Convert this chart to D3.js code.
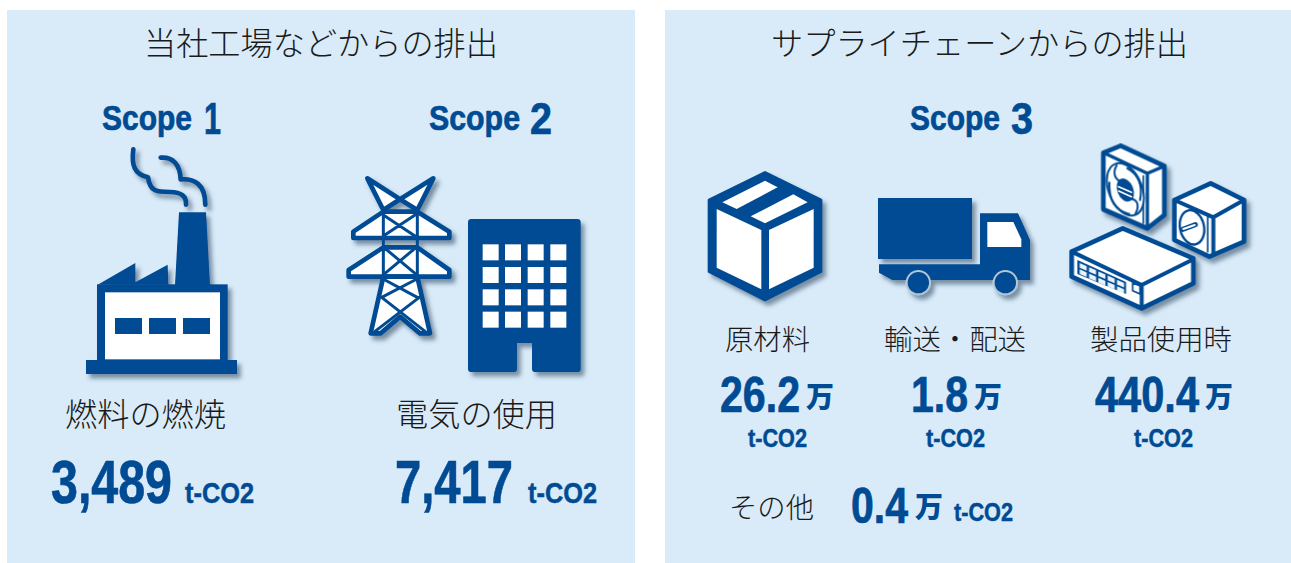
<!DOCTYPE html>
<html lang="ja">
<head>
<meta charset="utf-8">
<title>Scope 1, 2, 3</title>
<script src="https://cdn.jsdelivr.net/npm/d3@7"></script>
<style>
html, body { margin: 0; padding: 0; background: #fff; overflow: hidden; }
.jp { font-family: "Noto Sans CJK JP", "Noto Sans", sans-serif; font-weight: 300; fill: #1a1a1a; }
.num { font-family: "Liberation Sans Narrow", "Liberation Sans", sans-serif; font-weight: 700; fill: #004b93; stroke: #004b93; stroke-width: 0.7; }
.wan { font-family: "Noto Sans CJK JP", sans-serif; font-weight: 900; fill: #004b93; }
</style>
</head>
<body>
<div id="chart"></div>
<script>
// data
const panelTitles = ["当社工場などからの排出", "サプライチェーンからの排出"];
const scopeNames = ["Scope 1", "Scope 2", "Scope 3"];
const ownLabels = ["燃料の燃焼", "電気の使用"];
const ownValues = [3489, 7417];
const chainLabels = ["原材料", "輸送・配送", "製品使用時"];
const chainValues = [26.2, 1.8, 440.4];
const otherLabel = "その他";
const otherValue = 0.4;
const unitMan = "万";
const unitCo = "t-CO2";

const blue = "#004b93";
const panelFill = "#d9ebf8";

const svg = d3.select("#chart").append("svg")
    .attr("width", 1291)
    .attr("height", 563);

// the icon groups are scaled by a third, so the shadow is given in zoomed units
svg.append("filter").attr("id", "shade")
    .attr("x", "-20%").attr("y", "-20%").attr("width", "150%").attr("height", "150%")
    .append("feDropShadow")
    .attr("dx", 11).attr("dy", 13).attr("stdDeviation", 6)
    .attr("flood-color", "#14324f").attr("flood-opacity", 0.5);

//panels
svg.selectAll("rect.panel")
    .data([[7, 628], [665, 626]])
    .join("rect")
    .attr("class", "panel")
    .attr("x", d => d[0])
    .attr("y", 10)
    .attr("width", d => d[1])
    .attr("height", 553)
    .attr("fill", panelFill);

//text helper, every string is squeezed to the width measured in the picture
function put(cls, str, x, y, size, len) {
    return svg.append("text")
        .attr("class", cls)
        .attr("x", x)
        .attr("y", y)
        .attr("font-size", size)
        .attr("textLength", len)
        .attr("lengthAdjust", "spacingAndGlyphs")
        .text(str);
}

function co2(x, y, len, size) {
    return put("num", unitCo, x, y, size, len).style("stroke-width", 0.5);
}

function scopeTitle(name, x, wordLen, digitX, digitLen) {
    let parts = name.split(" ");
    put("num", parts[0], x, 130, 35, wordLen);
    put("num", parts[1], digitX, 134, 44, digitLen);
}

// titles
put("jp", panelTitles[0], 144, 55, 32, 354);
put("jp", panelTitles[1], 771, 55, 32, 417);

scopeTitle(scopeNames[0], 102, 90, 204, 17);
scopeTitle(scopeNames[1], 429, 91, 530, 22);
scopeTitle(scopeNames[2], 910, 90, 1011, 22);

// own emissions
const fmtInt = d3.format(",");
const ownX = d3.scaleOrdinal().domain(ownLabels).range([65, 396]);
const ownNumX = d3.scaleOrdinal().domain(ownLabels).range([51, 395]);
const ownNumLen = d3.scaleOrdinal().domain(ownLabels).range([121, 118]);
const ownUnitX = d3.scaleOrdinal().domain(ownLabels).range([185, 528]);

ownLabels.forEach((lab, i) => {
    put("jp", lab, ownX(lab), 426, 32, 161);
    put("num", fmtInt(ownValues[i]), ownNumX(lab), 503, 62, ownNumLen(lab));
    co2(ownUnitX(lab), 503, 69, 30);
});

// supply chain
const fmtDec = d3.format(".1f");
const chainX = d3.scaleOrdinal().domain(chainLabels).range([725, 884, 1090]);
const chainLabLen = d3.scaleOrdinal().domain(chainLabels).range([85, 142, 142]);
const chainNumX = d3.scaleOrdinal().domain(chainLabels).range([720, 911, 1095]);
const chainNumLen = d3.scaleOrdinal().domain(chainLabels).range([80, 57, 104]);
const chainUnitX = d3.scaleOrdinal().domain(chainLabels).range([748, 926, 1134]);

chainLabels.forEach((lab, i) => {
    put("jp", lab, chainX(lab), 350, 28, chainLabLen(lab));
    let n = chainNumX(lab), w = chainNumLen(lab);
    put("num", fmtDec(chainValues[i]), n, 412, 50, w);
    put("wan", unitMan, n + w + 6, 408, 29, 28);
    co2(chainUnitX(lab), 447, 59, 26);
});

put("jp", otherLabel, 729, 518, 28, 85);
put("num", fmtDec(otherValue), 851, 523, 50, 57);
put("wan", unitMan, 915, 518, 29, 28);
co2(954, 521, 59, 26);

// icons are traced in zoomed coordinates, 3 units to a pixel
function icon(x, y) {
    return svg.append("g")
        .attr("transform", `translate(${x}, ${y}) scale(${1 / 3})`)
        .attr("filter", "url(#shade)");
}
function shape(g, d, fill, stroke, sw) {
    return g.append("path")
        .attr("d", d)
        .attr("fill", fill || "none")
        .attr("stroke", stroke || "none")
        .attr("stroke-width", sw || 0)
        .attr("stroke-linejoin", "round")
        .attr("stroke-linecap", "round");
}
function box(g, x, y, w, h, fill) {
    return g.append("rect").attr("x", x).attr("y", y).attr("width", w).attr("height", h).attr("fill", fill);
}

// factory
let factory = icon(60, 90);
box(factory, 78, 810, 453, 42, blue);
box(factory, 111, 583, 392, 230, blue);
box(factory, 135, 607, 345, 201, "#fff");
[165, 267, 369].forEach(x => box(factory, x, 684, 81, 48, blue));
shape(factory, "M357,367L438,367L450,585L345,585Z", blue);
shape(factory, "M113,584L226,519L226,577L323,524L325,584Z", blue);
shape(factory, "M220,178C214,225 222,252 264,262C270,305 290,306 330,306C365,306 380,320 378,344", null, blue, 14);
shape(factory, "M302,203C340,200 360,225 362,268C400,265 436,280 436,344", null, blue, 14);

// pylon
let pylon = icon(340, 160);
let tw = 14;
shape(pylon, "M82,55L180,118L130,150ZM280,55L180,118L232,150Z", "#fff", blue, tw);
shape(pylon, "M130,155L232,155L328,215L328,234L40,234L40,215Z", "#fff", blue, tw);
shape(pylon, "M130,262L232,262L328,330L328,350L26,350L26,330Z", "#fff", blue, tw);
shape(pylon, "M130,350L232,350L270,520L240,520L180,470L122,520L92,520Z", "#fff", blue, tw);
shape(pylon, "M130,150L130,350M232,150L232,350M130,165L225,228M225,165L130,228M135,265L225,340M225,265L135,340M135,360L232,412M225,360L125,412M125,412L260,518M238,412L100,518", null, blue, 9);

// building
let building = icon(340, 160);
shape(building, "M394,177L712,177Q722,177 722,187L722,626Q722,636 712,636L586,636Q576,636 576,626L576,549L531,549L531,626Q531,636 521,636L394,636Q384,636 384,626L384,187Q384,177 394,177Z", blue);
[253, 321, 388, 455].forEach(y => {
    [428, 495, 563, 631].forEach(x => box(building, x, y, 48, 48, "#fff"));
});

// cardboard box
let carton = icon(690, 140);
shape(carton, "M225,97L393,180L393,395L225,480L57,395L57,180Z", blue, blue, 8);
shape(carton, "M80,207L214,270L214,448L80,383Z", "#fff");
shape(carton, "M237,270L371,207L371,383L237,448Z", "#fff");
shape(carton, "M97,187L225,122L263,142L140,207Z", "#fff");
shape(carton, "M182,229L310,163L353,187L225,250Z", "#fff");

// truck
let truck = icon(690, 140);
box(truck, 564, 174, 282, 183, blue);
shape(truck, "M567,373L870,373L870,220L984,220L1020,300L1020,420L607,420L567,398Z", blue);
shape(truck, "M892,246L970,246L994,298L994,321L892,321Z", "#fff");
[685, 946].forEach(cx => {
    truck.append("circle").attr("cx", cx).attr("cy", 428).attr("r", 38).attr("fill", "#b4c6d4");
    truck.append("circle").attr("cx", cx).attr("cy", 428).attr("r", 32).attr("fill", blue);
});

// fan, motor and switch
let gear = icon(1050, 140);
let gw = 14;
shape(gear, "M160,38L212,17L343,78L343,225L292,265L160,208Z", "#fff", blue, gw);
shape(gear, "M160,38L292,100L343,78M292,100L292,262", null, blue, 10);
shape(gear, "M280,108L280,250", null, blue, 5);
gear.append("ellipse").attr("cx", 226).attr("cy", 148).attr("rx", 50).attr("ry", 82)
    .attr("transform", "rotate(-22 226 148)")
    .attr("fill", "#fff").attr("stroke", blue).attr("stroke-width", 6);
shape(gear, "M232,85C262,100 280,135 270,180M238,222C205,215 176,190 178,128M200,76C186,100 196,120 215,125M256,222C270,195 262,178 240,176", null, blue, 6);
gear.append("ellipse").attr("cx", 226).attr("cy", 150).attr("rx", 24).attr("ry", 36)
    .attr("transform", "rotate(-22 226 150)").attr("fill", blue);
shape(gear, "M206,140L244,157M206,153L244,170", null, "#fff", 5);

shape(gear, "M482,130L582,180L582,305L478,350L373,300L373,180Z", "#fff", blue, gw);
shape(gear, "M373,180L490,232L582,180M490,232L490,345", null, blue, 12);
shape(gear, "M473,226L473,336", null, blue, 5);
gear.append("ellipse").attr("cx", 426).attr("cy", 262).attr("rx", 36).attr("ry", 52)
    .attr("transform", "rotate(-12 426 262)")
    .attr("fill", "#fff").attr("stroke", blue).attr("stroke-width", 7);
shape(gear, "M398,268L436,254", null, blue, 15);
shape(gear, "M400,267L434,255", null, "#fff", 6);

shape(gear, "M218,265L430,355L430,430L275,505L65,410L65,335Z", "#fff", blue, gw);
shape(gear, "M65,335L275,435L430,358M275,435L275,505", null, blue, 12);
shape(gear, "M82,360L228,426L228,462L82,402Z", blue);
d3.range(5).forEach(c => {
    d3.range(2).forEach(r => {
        let x0 = 89 + c * 28, y0 = 369 + c * 12.6 + r * 19;
        shape(gear, `M${x0},${y0}L${x0 + 21},${y0 + 9.5}L${x0 + 21},${y0 + 23}L${x0},${y0 + 14}Z`, "#eaf3fa");
    });
});
shape(gear, "M248,428L270,438L270,462L248,452Z", "#fff", blue, 5);
</script>
</body>
</html>
